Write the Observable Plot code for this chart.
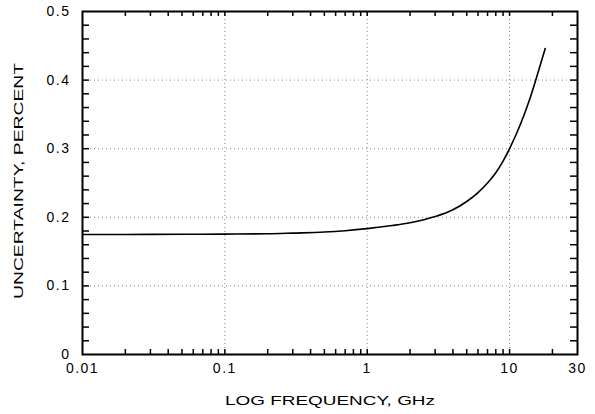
<!DOCTYPE html>
<html><head><meta charset="utf-8">
<script src="https://cdn.jsdelivr.net/npm/d3@7"></script>
<script src="https://cdn.jsdelivr.net/npm/@observablehq/plot@0.6"></script>
<style>body{margin:0;background:#fff}</style>
</head><body><div id="chart"></div>
<script>
const freqGHz = [0.01, 0.02, 0.05, 0.1, 0.2, 0.3, 0.5, 0.7, 1, 1.5, 2, 3, 4, 5, 6, 7, 8, 9, 10, 12, 14, 16, 17.8];
const uncertainty = [0.175, 0.175, 0.1752, 0.1755, 0.176, 0.177, 0.1785, 0.1805, 0.1835, 0.188, 0.192, 0.201, 0.211, 0.223, 0.236, 0.250, 0.265, 0.282, 0.300, 0.337, 0.375, 0.414, 0.446];

const xTickValues = [0.01, 0.1, 1, 10, 30];
const xTickLabels = ["0.01", "0.1", "1", "10", "30"];
const yTickValues = [0, 0.1, 0.2, 0.3, 0.4, 0.5];
const yTickLabels = ["0", "0.1", "0.2", "0.3", "0.4", "0.5"];
const xGrid = [0.1, 1, 10];
const yGrid = [0.1, 0.2, 0.3, 0.4];
const xMinor = [0.02,0.03,0.04,0.05,0.06,0.07,0.08,0.09,0.1,0.2,0.3,0.4,0.5,0.6,0.7,0.8,0.9,1,2,3,4,5,6,7,8,9,10,20];
const yMinor = [0.02,0.04,0.06,0.08,0.1,0.12,0.14,0.16,0.18,0.2,0.22,0.24,0.26,0.28,0.3,0.32,0.34,0.36,0.38,0.4,0.42,0.44,0.46,0.48];
const xLabel = "LOG FREQUENCY, GHz";
const yLabel = "UNCERTAINTY, PERCENT";
const xDomain = [0.01, 30];
const yDomain = [0, 0.5];

const data = freqGHz.map((f, i) => ({f, u: uncertainty[i]}));

const W = 595, H = 414, mL = 82, mR = 18, mT = 11, mB = 60;
const pw = W - mL - mR, ph = H - mT - mB;
const tickLenX = 5, tickLenY = 7;

const chart = Plot.plot({
  width: W, height: H,
  marginLeft: mL, marginRight: mR, marginTop: mT, marginBottom: mB,
  style: {fontFamily: "Arial, 'Liberation Sans', sans-serif", fontSize: "14px", background: "white", color: "black"},
  x: {type: "log", domain: xDomain},
  y: {domain: yDomain},
  marks: [
    Plot.ruleX(xGrid, {x: d => d, stroke: "#888", strokeDasharray: "1,3", strokeWidth: 1}),
    Plot.ruleY(yGrid, {y: d => d, stroke: "#888", strokeDasharray: "1,3", strokeWidth: 1}),
    Plot.ruleX(xMinor, {x: d => d, insetTop: ph - tickLenX, stroke: "black", strokeWidth: 1.5}),
    Plot.ruleX(xMinor, {x: d => d, insetBottom: ph - tickLenX, stroke: "black", strokeWidth: 1.5}),
    Plot.ruleY(yMinor, {y: d => d, insetRight: pw - tickLenY, stroke: "black", strokeWidth: 1.5}),
    Plot.ruleY(yMinor, {y: d => d, insetLeft: pw - tickLenY, stroke: "black", strokeWidth: 1.5}),
    Plot.line(data, {x: "f", y: "u", stroke: "black", strokeWidth: 1.6, curve: "monotone-x"}),
    Plot.frame({stroke: "black", strokeWidth: 2}),
    Plot.axisX({ticks: xTickValues, tickFormat: d => xTickLabels[xTickValues.indexOf(d)], tickSize: 0, tickPadding: 9, label: null, fontSize: 14}),
    Plot.axisY({ticks: yTickValues, tickFormat: d => yTickLabels[yTickValues.indexOf(d)], tickSize: 0, tickPadding: 12, label: null, fontSize: 14}),
    Plot.text([xLabel], {text: d => d, frameAnchor: "bottom", textAnchor: "middle", dy: 50, fontSize: 13}),
    Plot.text([yLabel], {text: d => d, frameAnchor: "left", textAnchor: "middle", dx: -64, dy: -2, rotate: -90, fontSize: 13})
  ]
});
// wide, letter-spaced lettering like the original
d3.select(chart).selectAll("[aria-label$='axis tick label'] text").attr("letter-spacing", "1.5");
d3.select(chart).selectAll("[aria-label='text'] text").each(function() {
  const t = d3.select(this);
  t.attr("lengthAdjust", "spacingAndGlyphs").attr("textLength", t.text() === xLabel ? 210 : 236);
});
document.getElementById("chart").appendChild(chart);
</script>
</body></html>
